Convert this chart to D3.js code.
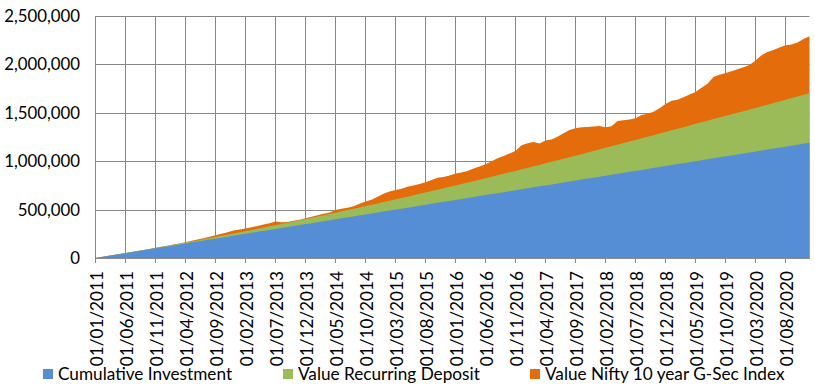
<!DOCTYPE html>
<html><head><meta charset="utf-8">
<script src="https://cdn.jsdelivr.net/npm/d3@7"></script>
<style>
body{margin:0;background:#fff}
svg text{font-family:Lato,"Open Sans",sans-serif;fill:#000}
</style>
</head><body>
<svg id="chart" width="815" height="392"></svg>
<script>
// ---- data (values in thousands of rupees) ----
const UNIT = 1000;
const firstMonth = new Date(2011, 0, 1);
const monthCount = 120;
const tickLabels = ["01/01/2011","01/06/2011","01/11/2011","01/04/2012","01/09/2012","01/02/2013","01/07/2013","01/12/2013","01/05/2014","01/10/2014","01/03/2015","01/08/2015","01/01/2016","01/06/2016","01/11/2016","01/04/2017","01/09/2017","01/02/2018","01/07/2018","01/12/2018","01/05/2019","01/10/2019","01/03/2020","01/08/2020"];
const yTicks = [0, 500000, 1000000, 1500000, 2000000, 2500000];
const seriesNames = ["Cumulative Investment", "Value Recurring Deposit", "Value Nifty 10 year G-Sec Index"];
const seriesColors = ["#558ED5", "#9BBB59", "#E46C0A"];

const cumulativeInvestment = [
0,10,20,30,40,50,60,70,80,90,
100,110,120,130,140,150,160,170,180,190,
200,210,220,230,240,250,260,270,280,290,
300,310,320,330,340,350,360,370,380,390,
400,410,420,430,440,450,460,470,480,490,
500,510,520,530,540,550,560,570,580,590,
600,610,620,630,640,650,660,670,680,690,
700,710,720,730,740,750,760,770,780,790,
800,810,820,830,840,850,860,870,880,890,
900,910,920,930,940,950,960,970,980,990,
1000,1010,1020,1030,1040,1050,1060,1070,1080,1090,
1100,1110,1120,1130,1140,1150,1160,1170,1180,1190];

const valueRecurringDeposit = [
0,10,20,31,41,51,62,72,83,93,
104,115,126,137,148,159,171,182,194,205,
217,229,241,253,265,277,289,302,314,327,
339,352,365,377,390,403,416,429,442,455,
468,482,495,509,522,536,550,564,578,592,
606,620,634,649,663,677,691,706,720,735,
749,764,779,794,809,824,839,854,870,885,
900,916,931,947,962,978,994,1010,1025,1041,
1057,1073,1089,1106,1122,1138,1154,1171,1187,1204,
1220,1236,1253,1269,1286,1302,1319,1336,1352,1369,
1386,1402,1419,1435,1452,1468,1484,1501,1517,1534,
1550,1567,1584,1600,1617,1634,1651,1668,1686,1703];

const valueNiftyGSec = [
0,10,20,31,41,52,62,73,83,94,
105,116,127,139,151,164,177,190,204,219,
234,250,266,283,294,305,318,330,345,358,
376,370,372,384,396,410,425,441,456,471,
495,508,520,535,560,583,603,633,665,688,
702,716,735,748,765,782,805,828,838,852,
873,884,900,925,945,968,1000,1030,1055,1080,
1105,1165,1185,1198,1183,1215,1225,1252,1290,1322,
1340,1350,1353,1358,1363,1350,1362,1415,1422,1432,
1443,1478,1490,1512,1548,1590,1624,1635,1660,1690,
1715,1760,1800,1870,1893,1910,1930,1950,1970,1995,
2040,2095,2128,2150,2175,2197,2206,2225,2262,2290];

// ---- chart ----
const fmtDate = d3.timeFormat("%d/%m/%Y");
const categories = d3.timeMonth.range(firstMonth, d3.timeMonth.offset(firstMonth, monthCount)).map(fmtDate);

const svg = d3.select("#chart");
const plotLeft = 95.5, plotRight = 809.5, plotTop = 16, plotBottom = 258;
const x = d3.scalePoint().domain(categories).range([plotLeft, plotRight]);
const y = d3.scaleLinear().domain([0, 2500000]).range([plotBottom, plotTop]);
const gridColor = "#878787";

// horizontal gridlines
svg.append("g").selectAll("line").data(yTicks).join("line")
  .attr("x1", plotLeft - 0.5).attr("x2", plotRight)
  .attr("y1", d => Math.round(y(d)) + 0.5).attr("y2", d => Math.round(y(d)) + 0.5)
  .attr("stroke", gridColor).attr("stroke-width", 1);

// vertical gridlines + ticks
svg.append("g").selectAll("line").data(tickLabels).join("line")
  .attr("x1", d => Math.floor(x(d)) + 0.5).attr("x2", d => Math.floor(x(d)) + 0.5)
  .attr("y1", plotTop).attr("y2", plotBottom + 5)
  .attr("stroke", gridColor).attr("stroke-width", 1);

// areas (largest at back)
const series = [cumulativeInvestment, valueRecurringDeposit, valueNiftyGSec];
const area = d3.area()
  .x((d, i) => x(categories[i]))
  .y0(y(0))
  .y1(d => y(d * UNIT));
const order = [2, 1, 0];
svg.append("g").selectAll("path").data(order).join("path")
  .attr("d", k => area(series[k]))
  .attr("fill", k => seriesColors[k]);

// x axis line
svg.append("line").attr("x1", plotLeft - 0.5).attr("x2", plotRight)
  .attr("y1", Math.round(y(0)) + 0.5).attr("y2", Math.round(y(0)) + 0.5)
  .attr("stroke", gridColor);

// y labels
svg.append("g").selectAll("text").data(yTicks).join("text")
  .attr("x", 80).attr("y", d => y(d)).attr("dy", "0.36em")
  .attr("text-anchor", "end").attr("font-size", 16.8)
  .text(d => d3.format(",")(d));

// x labels
svg.append("g").selectAll("text").data(tickLabels).join("text")
  .attr("transform", d => `translate(${x(d) + 1},271) rotate(-90)`)
  .attr("dy", "0.36em").attr("text-anchor", "end").attr("font-size", 17.2)
  .text(d => d);

// legend
const legendX = [43, 283, 530];
const lg = svg.append("g").selectAll("g").data(seriesNames).join("g")
  .attr("transform", (d, i) => `translate(${legendX[i]},374)`);
lg.append("rect").attr("x", 0).attr("y", -5).attr("width", 10).attr("height", 10)
  .attr("fill", (d, i) => seriesColors[i]);
lg.append("text").attr("x", 15).attr("y", 0).attr("dy", "0.36em")
  .attr("font-size", 17.2).text(d => d);
</script>
</body></html>
